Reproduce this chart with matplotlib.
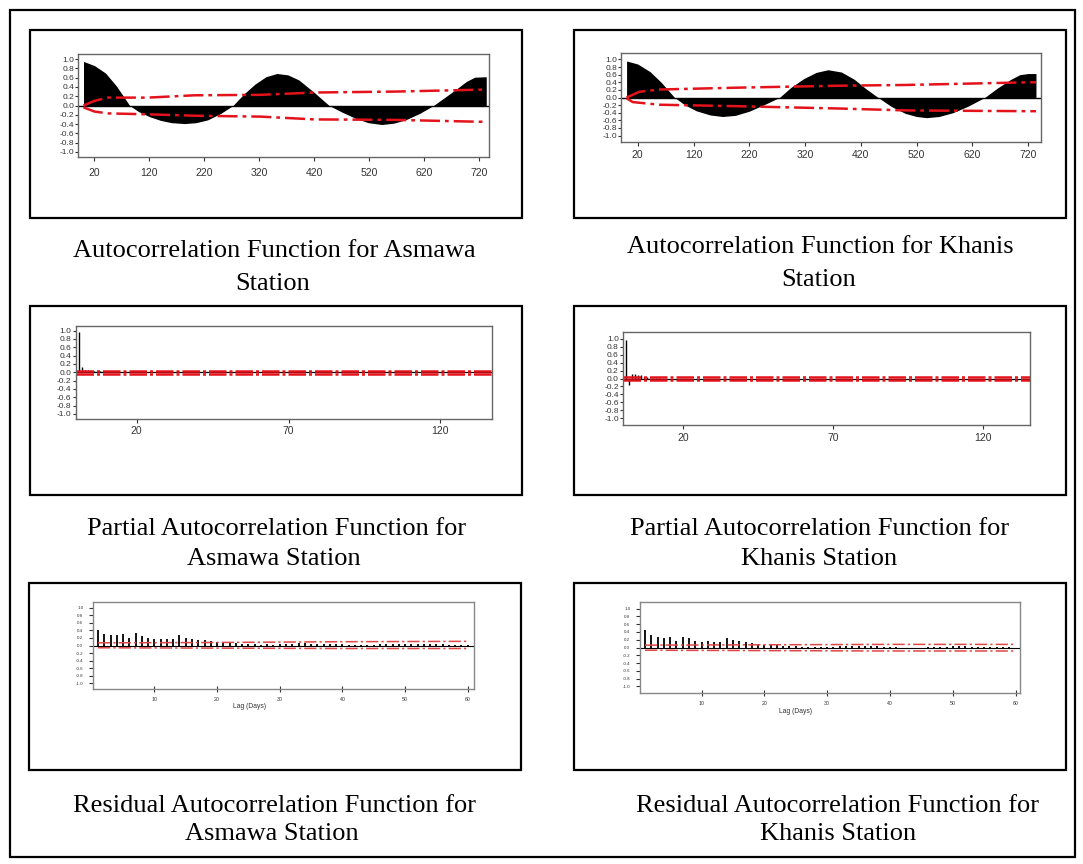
import matplotlib.pyplot as plt
from matplotlib.patches import Rectangle

plt.rcParams['font.family'] = ['Liberation Sans', 'DejaVu Sans']
plt.rcParams['axes.unicode_minus'] = False

W, H = 1083, 864
RED = '#e3121b'
DASHDOT = (0, (8, 2, 1.5, 2))

# ---- ACF ----
asmawa_acf_lag = [0, 20, 40, 60, 84, 100, 120, 140, 160, 184, 205, 226, 250, 272, 292, 312,
                  332, 352, 372, 392, 421, 447, 470, 494, 518, 543, 565, 586, 612, 637, 657,
                  677, 697, 712, 733]
asmawa_acf = [0.95, 0.86, 0.70, 0.42, 0.00, -0.13, -0.24, -0.32, -0.37, -0.39, -0.37, -0.31,
              -0.17, 0.00, 0.25, 0.46, 0.62, 0.69, 0.66, 0.55, 0.27, 0.00, -0.14, -0.27,
              -0.37, -0.41, -0.38, -0.31, -0.17, 0.00, 0.17, 0.34, 0.52, 0.61, 0.62]
asmawa_up_lag = [0, 20, 44, 117, 202, 323, 421, 567, 719, 733]
asmawa_up = [0.0, 0.10, 0.17, 0.17, 0.22, 0.23, 0.28, 0.30, 0.34, 0.35]
asmawa_lo_lag = [0, 20, 44, 117, 202, 323, 355, 421, 567, 719, 733]
asmawa_lo = [-0.04, -0.13, -0.17, -0.19, -0.22, -0.24, -0.26, -0.30, -0.31, -0.35, -0.35]

khanis_acf_lag = [0, 20, 42, 62, 86, 105, 125, 150, 172, 195, 220, 248, 274, 295, 318, 340,
                  361, 385, 408, 430, 451, 475, 500, 520, 538, 560, 585, 612, 642, 665, 688,
                  705, 720, 734]
khanis_acf = [0.96, 0.88, 0.68, 0.40, 0.00, -0.20, -0.35, -0.46, -0.50, -0.47, -0.36, -0.18,
              0.00, 0.27, 0.50, 0.66, 0.73, 0.67, 0.48, 0.22, 0.00, -0.24, -0.42, -0.50,
              -0.53, -0.50, -0.40, -0.23, 0.00, 0.25, 0.47, 0.60, 0.63, 0.63]
khanis_up_lag = [0, 23, 59, 203, 382, 502, 723, 734]
khanis_up = [0.0, 0.15, 0.21, 0.26, 0.31, 0.33, 0.40, 0.40]
khanis_lo_lag = [0, 11, 59, 203, 382, 502, 723, 734]
khanis_lo = [-0.02, -0.12, -0.19, -0.23, -0.29, -0.34, -0.36, -0.36]
acf_ticks = [20, 120, 220, 320, 420, 520, 620, 720]

# ---- PACF ----
asmawa_pacf = [0.97, 0.12, 0.06, 0.05, 0.04, 0.03, 0.03, 0.02, 0.02, 0.02]
khanis_pacf = [0.97, -0.16, 0.12, 0.11, 0.10, 0.08, 0.04, 0.03, 0.02, 0.02, 0.02, 0.02]
pacf_band = 0.03
pacf_ticks = [20, 70, 120]

# ---- residual ACF, lags 1..60 ----
asmawa_res = [0.42, 0.30, 0.27, 0.27, 0.30, 0.20, 0.32, 0.25, 0.20, 0.18,
              0.17, 0.17, 0.17, 0.27, 0.20, 0.18, 0.15, 0.15, 0.12, 0.10,
              0.10, 0.08, 0.07, 0.05, 0.04, 0.03, 0.02, 0.03, 0.02, 0.03,
              0.04, 0.05, 0.06, 0.06, 0.05, 0.05, 0.04, 0.03, 0.04, 0.03,
              0.02, 0.02, 0.01, 0.02, 0.02, 0.03, 0.03, 0.04, 0.04, 0.05,
              0.05, 0.04, 0.04, 0.03, 0.03, 0.03, 0.02, 0.02, 0.02, 0.01]
khanis_res = [0.46, 0.33, 0.27, 0.25, 0.28, 0.18, 0.28, 0.25, 0.18, 0.15,
              0.17, 0.15, 0.15, 0.25, 0.20, 0.17, 0.15, 0.12, 0.10, 0.07,
              0.06, 0.06, 0.05, 0.04, 0.03, 0.02, 0.02, 0.02, 0.02, 0.02,
              0.02, 0.03, 0.05, 0.05, 0.05, 0.05, 0.04, 0.03, 0.02, 0.01,
              0.01, 0.00, -0.01, -0.01, 0.00, 0.01, 0.01, 0.02, 0.02, 0.03,
              0.04, 0.03, 0.02, 0.02, 0.02, 0.01, 0.01, 0.01, 0.01, 0.00]
res_band_lag = [1, 20, 40, 60]
asmawa_res_up = [0.07, 0.08, 0.10, 0.11]
asmawa_res_lo = [-0.06, -0.07, -0.08, -0.08]
khanis_res_up = [0.06, 0.07, 0.08, 0.08]
khanis_res_lo = [-0.07, -0.08, -0.09, -0.09]
res_ticks = [10, 20, 30, 40, 50, 60]

y_ticks = [1.0, 0.8, 0.6, 0.4, 0.2, 0.0, -0.2, -0.4, -0.6, -0.8, -1.0]
y_labels = ['%.1f' % v for v in y_ticks]

captions = [
    (274, 257, 'Autocorrelation Function for Asmawa'), (273, 290, 'Station'),
    (820, 253, 'Autocorrelation Function for Khanis'), (819, 286, 'Station'),
    (277, 535, 'Partial Autocorrelation Function for'), (274, 565, 'Asmawa Station'),
    (820, 535, 'Partial Autocorrelation Function for'), (819, 565, 'Khanis Station'),
    (274, 812, 'Residual Autocorrelation Function for'), (272, 840, 'Asmawa Station'),
    (838, 812, 'Residual Autocorrelation Function for'), (838, 840, 'Khanis Station'),
]


def frac(x0, y0, x1, y1):
    return [x0 / W, 1 - y1 / H, (x1 - x0) / W, (y1 - y0) / H]


fig = plt.figure(figsize=(W / 100, H / 100), dpi=100)


def frame(x0, y0, x1, y1, lw=1.6):
    fig.add_artist(Rectangle((x0 / W, 1 - y1 / H), (x1 - x0) / W, (y1 - y0) / H,
                             transform=fig.transFigure, fill=False,
                             edgecolor='black', lw=lw))


def style(ax, xlim, ylim, xticks, xfs, yfs, xpad, ypad, spine='#666666'):
    ax.set_xlim(*xlim)
    ax.set_ylim(*ylim)
    ax.set_xticks(xticks)
    ax.set_yticks(y_ticks)
    ax.set_yticklabels(y_labels)
    ax.tick_params(axis='x', labelsize=xfs, length=3, width=0.8, pad=xpad, colors='#333333')
    ax.tick_params(axis='y', labelsize=yfs, length=2, width=0.8, pad=ypad, colors='#333333')
    for s in ax.spines.values():
        s.set_color(spine)
        s.set_linewidth(1.0)


def acf_panel(box, xlim, ylim, lags, acf, ul, up, ll, lo, xpad):
    ax = fig.add_axes(frac(*box))
    ax.fill_between(lags, acf, 0, color='black', lw=0)
    ax.axhline(0, color='black', lw=1.0)
    ax.plot(ul, up, color=RED, lw=1.8, ls=DASHDOT)
    ax.plot(ll, lo, color=RED, lw=1.8, ls=DASHDOT)
    style(ax, xlim, ylim, acf_ticks, 7.5, 6, xpad, 0.8)
    return ax


def pacf_panel(box, xlim, ylim, vals, xpad, ypad):
    ax = fig.add_axes(frac(*box))
    lags = list(range(1, len(vals) + 1))
    ax.axhline(0, color='black', lw=0.9)
    ax.vlines(lags, 0, vals, color='black', lw=1.0)
    ax.axhline(pacf_band, color=RED, lw=1.8, ls=(0, (7, 1.2, 1.2, 1.2)))
    ax.axhline(-pacf_band, color=RED, lw=1.8, ls=(0, (7, 1.2, 1.2, 1.2)))
    style(ax, xlim, ylim, pacf_ticks, 7.5, 6, xpad, ypad)
    return ax


def res_panel(box, xlim, ylim, vals, up, lo, label_x):
    ax = fig.add_axes(frac(*box))
    lags = list(range(1, len(vals) + 1))
    ax.axhline(0, color='black', lw=0.8)
    ax.vlines(lags, 0, vals, color='black', lw=1.3)
    ax.plot(res_band_lag, up, color='#e04848', lw=1.1, ls=DASHDOT)
    ax.plot(res_band_lag, lo, color='#e04848', lw=1.1, ls=DASHDOT)
    style(ax, xlim, ylim, res_ticks, 3.8, 3.2, 3.5, 4, spine='#888888')
    ax.tick_params(axis='x', direction='inout', length=5)
    ax.tick_params(axis='y', length=3)
    ax.set_xlabel('Lag (Days)', fontsize=4.9, color='#333333', labelpad=0)
    ax.xaxis.set_label_coords(label_x, -0.16)
    return ax


frame(10, 10, 1075, 857)
frame(30, 30, 522, 218)
frame(574, 30, 1066, 218)
frame(30, 306, 522, 495)
frame(574, 306, 1066, 495)
frame(29, 583, 521, 770)
frame(574, 583, 1066, 770)

acf_panel((78, 54, 489, 157), (-10, 738), (-1.11, 1.11), asmawa_acf_lag, asmawa_acf,
          asmawa_up_lag, asmawa_up, asmawa_lo_lag, asmawa_lo, 5)
acf_panel((621, 53, 1041, 142), (-10, 743), (-1.17, 1.17), khanis_acf_lag, khanis_acf,
          khanis_up_lag, khanis_up, khanis_lo_lag, khanis_lo, 3)

pacf_panel((76, 326, 492, 419), (0, 137), (-1.12, 1.11), asmawa_pacf, 2, 1.5)
pacf_panel((623, 332, 1030, 425), (0, 135.5), (-1.17, 1.17), khanis_pacf, 3, 1.0)

res_panel((93, 602, 474, 689), (0.2, 61), (-1.15, 1.15), asmawa_res,
          asmawa_res_up, asmawa_res_lo, 0.41)
res_panel((640, 602, 1020, 693), (0.2, 60.7), (-1.17, 1.17), khanis_res,
          khanis_res_up, khanis_res_lo, 0.41)

for cx, by, txt in captions:
    fig.text(cx / W, 1 - by / H, txt, ha='center', va='baseline', fontsize=19,
             family='Liberation Serif', color='black')

fig.savefig('out.png', dpi=100)
